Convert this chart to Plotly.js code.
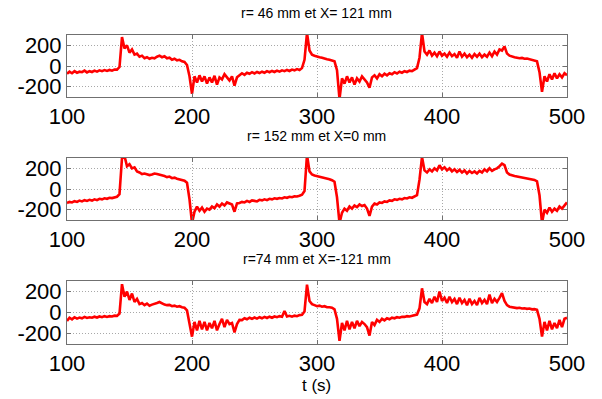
<!DOCTYPE html>
<html>
<head>
<meta charset="utf-8">
<script src="https://cdn.plot.ly/plotly-3.0.1.min.js"></script>
<style>html,body{margin:0;padding:0;background:#fff;}#chart{width:602px;height:399px;}</style>
</head>
<body>
<div id="chart"></div>
<script>
// time samples (s)
var t = [
100,102,104,106,108,110,112,114,116,118,
120,122,124,126,128,130,132,134,136,138,
140,142,144,146,148,150,152,154,156,158,
160,162,164,166,168,170,172,174,176,178,
180,182,184,186,188,190,192,194,196,198,
200,202,204,206,208,210,212,214,216,218,
220,222,224,226,228,230,232,234,236,238,
240,242,244,246,248,250,252,254,256,258,
260,262,264,266,268,270,272,274,276,278,
280,282,284,286,288,290,292,294,296,298,
300,302,304,306,308,310,312,314,316,318,
320,322,324,326,328,330,332,334,336,338,
340,342,344,346,348,350,352,354,356,358,
360,362,364,366,368,370,372,374,376,378,
380,382,384,386,388,390,392,394,396,398,
400,402,404,406,408,410,412,414,416,418,
420,422,424,426,428,430,432,434,436,438,
440,442,444,446,448,450,452,454,456,458,
460,462,464,466,468,470,472,474,476,478,
480,482,484,486,488,490,492,494,496,498,
500];

// r = 46 mm, X = 121 mm
var s1 = [
-75,-55,-70,-50,-65,-55,-60,-45,-62,-50,
-58,-45,-55,-42,-50,-40,-48,-38,-45,-35,
-35,-10,280,170,200,130,160,110,120,90,
100,75,85,70,80,75,90,100,85,95,
75,80,60,70,55,60,45,40,10,-100,
-270,-100,-160,-90,-150,-100,-170,-110,-160,-95,
-180,-110,-130,-80,-110,-140,-100,-190,-110,-90,
-70,-85,-65,-75,-60,-72,-58,-68,-55,-65,
-50,-60,-48,-58,-45,-55,-42,-50,-38,-48,
-35,-42,-30,-38,-20,60,320,150,110,100,
90,85,80,70,65,60,50,45,-40,-320,
-120,-170,-100,-160,-110,-180,-120,-150,-100,-130,
-160,-210,-110,-90,-120,-80,-100,-75,-90,-70,
-80,-60,-72,-55,-65,-50,-58,-45,-50,-35,
-20,80,320,140,110,150,100,130,95,140,
100,120,90,130,95,115,80,140,90,120,
85,110,80,115,90,120,85,110,90,130,
95,140,110,160,150,190,120,100,90,85,
80,75,78,70,72,65,60,55,45,-60,
-250,-100,-150,-80,-130,-70,-120,-80,-110,-70,
-90];

// r = 152 mm, X = 0 mm
var s2 = [
-135,-125,-130,-118,-125,-112,-120,-108,-115,-105,
-112,-100,-108,-95,-100,-90,-95,-85,-88,-80,
-75,-50,300,320,220,240,200,210,170,160,
145,150,140,135,140,150,145,140,130,125,
115,120,105,110,100,95,90,80,60,-100,
-330,-220,-170,-210,-180,-220,-190,-200,-170,-185,
-150,-170,-140,-160,-130,-140,-150,-220,-140,-135,
-125,-130,-115,-125,-110,-115,-120,-105,-110,-100,
-108,-95,-100,-90,-95,-88,-92,-80,-85,-75,
-80,-70,-72,-65,-55,-20,330,170,140,130,
125,120,115,110,100,95,85,70,-80,-330,
-230,-190,-210,-170,-190,-160,-175,-150,-165,-155,
-190,-260,-170,-140,-150,-130,-135,-120,-125,-110,
-115,-100,-105,-95,-100,-88,-92,-80,-85,-75,
-60,90,310,180,160,190,170,200,180,230,
190,210,180,200,170,190,165,185,160,180,
150,175,155,170,150,175,160,190,170,200,
175,190,200,220,245,230,160,140,130,125,
120,115,110,108,105,100,95,88,75,-60,
-330,-200,-230,-180,-220,-190,-210,-170,-190,-160,
-130];

// r = 74 mm, X = -121 mm
var s3 = [
-80,-50,-65,-45,-58,-48,-55,-42,-52,-45,
-50,-40,-48,-38,-45,-35,-42,-35,-38,-30,
-32,-10,270,150,200,120,180,100,130,80,
90,70,85,65,75,80,90,100,85,75,
70,72,60,65,55,60,50,45,20,-120,
-230,-90,-170,-80,-160,-90,-170,-100,-150,-80,
-170,-110,-60,-140,-70,-110,-100,-190,-110,-70,
-72,-55,-65,-50,-60,-48,-58,-45,-55,-42,
-52,-40,-50,-38,-45,-35,-40,15,-38,-32,
-40,-30,-35,-25,-22,10,265,110,80,70,
60,65,55,60,50,50,45,30,-60,-270,
-100,-170,-80,-160,-90,-150,-80,-130,-90,-110,
-140,-220,-90,-120,-70,-90,-60,-75,-55,-65,
-50,-55,-45,-50,-40,-42,-35,-38,-30,-28,
-20,40,230,100,80,130,90,150,100,200,
110,140,90,150,100,130,80,140,90,120,
70,130,80,110,70,140,90,120,80,170,
90,130,100,140,185,110,70,55,50,45,
42,45,38,40,35,38,30,32,25,-60,
-230,-90,-170,-80,-160,-100,-150,-70,-140,-60,
-50];

var titles = ['r= 46 mm et X= 121 mm', 'r= 152 mm et X=0 mm', 'r=74 mm et X=-121 mm'];
var xTicks = [100, 200, 300, 400, 500];
var yTicks = [-200, 0, 200];
var xLabel = 't (s)';

var series = [s1, s2, s3];
var W = 602, H = 399;
var boxes = [[35, 97], [158, 220], [281, 344]];
var titleY = [13, 136, 259];
var xDom = [67 / W, 567 / W];
var FONT = 'Liberation Sans, Arial, sans-serif';

var data = [], layout = {
  width: W, height: H,
  margin: {l: 0, r: 0, t: 0, b: 0},
  paper_bgcolor: '#ffffff', plot_bgcolor: '#ffffff',
  showlegend: false,
  font: {family: FONT, color: '#000'},
  annotations: []
};

for (var i = 0; i < 3; i++) {
  var sx = i === 0 ? '' : String(i + 1);
  data.push({
    x: t, y: series[i], type: 'scatter', mode: 'lines',
    xaxis: 'x' + sx, yaxis: 'y' + sx,
    line: {color: '#ff0000', width: 2.6}, hoverinfo: 'skip'
  });
  var axCommon = {
    showline: true, mirror: 'ticks', linecolor: '#707070', linewidth: 1,
    showgrid: true, gridcolor: '#a8a8a8', griddash: '1px,2px', gridwidth: 1,
    zeroline: false, ticks: 'inside', ticklen: 4, tickcolor: '#707070',
    tickfont: {family: FONT, size: 22, color: '#000'},
    fixedrange: true, automargin: false
  };
  layout['xaxis' + sx] = Object.assign({}, axCommon, {
    domain: xDom, range: [100, 500], tickvals: xTicks, ticktext: xTicks.map(String),
    anchor: 'y' + sx
  });
  layout['yaxis' + sx] = Object.assign({}, axCommon, {
    domain: [1 - boxes[i][1] / H, 1 - boxes[i][0] / H], range: [-300, 300],
    tickvals: yTicks, ticktext: yTicks.map(String), anchor: 'x' + sx
  });
  layout.annotations.push({
    text: titles[i], xref: 'paper', yref: 'paper', x: (67 + 567) / 2 / W, y: 1 - titleY[i] / H,
    xanchor: 'center', yanchor: 'middle', showarrow: false,
    font: {family: FONT, size: 14, color: '#000'}
  });
}
layout.annotations.push({
  text: xLabel, xref: 'paper', yref: 'paper', x: (67 + 567) / 2 / W, y: 1 - 385 / H,
  xanchor: 'center', yanchor: 'middle', showarrow: false,
  font: {family: FONT, size: 17, color: '#000'}
});

Plotly.newPlot('chart', data, layout, {displayModeBar: false, staticPlot: true});
</script>
</body>
</html>
